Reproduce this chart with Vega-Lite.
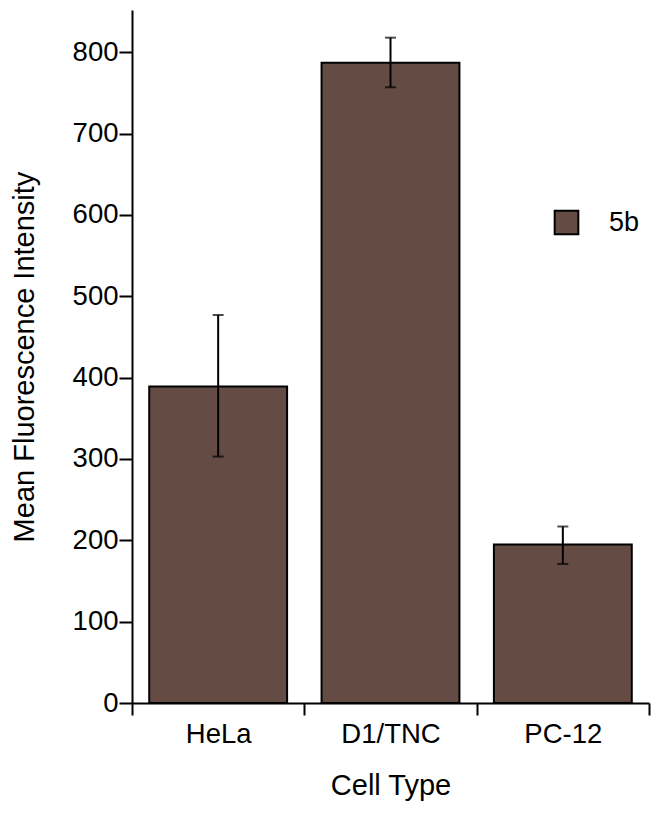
{
  "$schema": "https://vega.github.io/schema/vega-lite/v6.json",
  "autosize": "none",
  "width": 517,
  "height": 693,
  "padding": {"left": 132, "top": 10, "right": 17, "bottom": 113},
  "background": "white",
  "data": {"values": [
    {"cell": "HeLa", "series": "5b", "mean": 389, "lo": 303, "hi": 477},
    {"cell": "D1/TNC", "series": "5b", "mean": 787, "lo": 757, "hi": 818},
    {"cell": "PC-12", "series": "5b", "mean": 195, "lo": 171, "hi": 217}
  ]},
  "config": {
    "view": {"stroke": null},
    "font": "Liberation Sans",
    "axis": {"labelFont": "Liberation Sans", "titleFont": "Liberation Sans", "labelColor": "black", "titleColor": "black", "domainColor": "black", "tickColor": "black", "domainWidth": 2, "tickWidth": 2, "labelFontSize": 27.5, "titleFontSize": 29, "titleFontWeight": "normal", "grid": false}
  },
  "encoding": {
    "x": {"field": "cell", "type": "nominal", "sort": ["HeLa", "D1/TNC", "PC-12"],
      "scale": {"paddingInner": 0, "paddingOuter": 0},
      "axis": {"title": "Cell Type", "labelAngle": 0, "tickBand": "extent", "tickSize": 12, "labelPadding": 5, "titlePadding": 24}}
  },
  "layer": [
    {
      "mark": {"type": "bar", "width": {"band": 0.8}, "stroke": "black", "strokeWidth": 2},
      "encoding": {
        "y": {"field": "mean", "type": "quantitative", "scale": {"domain": [0, 852], "nice": false},
          "axis": {"title": "Mean Fluorescence Intensity", "values": [0,100,200,300,400,500,600,700,800], "tickSize": 13, "labelPadding": 1, "titlePadding": 33}},
        "fill": {"field": "series", "type": "nominal", "scale": {"range": ["#644C44"]},
          "legend": {"title": null, "orient": "none", "legendX": 421, "legendY": 199, "symbolType": "square", "symbolSize": 560, "symbolStrokeColor": "black", "symbolStrokeWidth": 2, "symbolFillColor": "#644C44", "labelFontSize": 27, "labelFont": "Liberation Sans", "labelColor": "black", "labelOffset": 29}}
      }
    },
    {
      "mark": {"type": "rule", "color": "black", "strokeWidth": 2},
      "encoding": {"y": {"field": "lo", "type": "quantitative"}, "y2": {"field": "hi"}}
    },
    {
      "mark": {"type": "tick", "color": "black", "size": 11, "thickness": 2},
      "encoding": {"y": {"field": "lo", "type": "quantitative"}}
    },
    {
      "mark": {"type": "tick", "color": "black", "size": 11, "thickness": 2},
      "encoding": {"y": {"field": "hi", "type": "quantitative"}}
    }
  ]
}
